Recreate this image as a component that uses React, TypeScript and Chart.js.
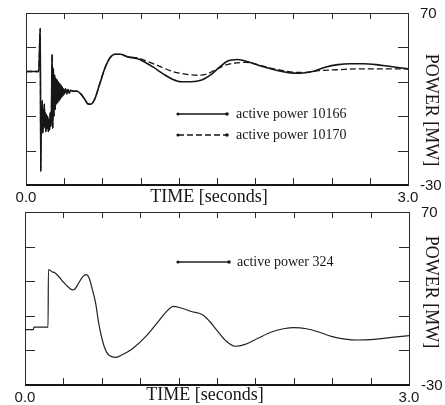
import React, { useEffect, useRef } from "react";
import { Chart, registerables } from "chart.js";

Chart.register(...registerables);

// ---- axis data ----
const xTickValues = [0, 0.3, 0.6, 0.9, 1.2, 1.5, 1.8, 2.1, 2.4, 2.7, 3.0];
const yTickValues = [50, 30, 10, -10];
const xEndValues = [0, 3];
const xEndLabels = ["0.0", "3.0"];
const yEndValues = [70, -30];
const yEndLabels = ["70", "-30"];
const xTitle = "TIME [seconds]";
const yTitle = "POWER [MW]";

// ---- top panel: shared transient of both buses ----
const commonTime = [0, 0.1, 0.112, 0.116, 0.12, 0.124, 0.128, 0.132, 0.136, 0.14, 0.144, 0.148, 0.152, 0.156, 0.16,
  0.165, 0.17, 0.175, 0.18, 0.185, 0.19, 0.195, 0.2, 0.205, 0.21, 0.215, 0.22, 0.225, 0.23, 0.235, 0.24, 0.245, 0.25,
  0.255, 0.26, 0.265, 0.27, 0.275, 0.28, 0.285, 0.29, 0.295, 0.3, 0.31, 0.32, 0.33, 0.34, 0.35,
  0.37, 0.4, 0.43, 0.46, 0.49, 0.51, 0.54, 0.58, 0.62, 0.66, 0.7, 0.74];
const commonPower = [36, 36, 61, -22, 16, 2, 19, 0, 14, 3, 17, 4, 12, 1, 11,
  3, 10, 1, 8, 2, 12, 4, 14, 46, 3, 38, 10, 34, 14, 32, 17, 31, 18,
  30, 19, 29, 20, 28, 21, 27, 22, 26, 23, 26, 23, 25.5, 23.5, 25,
  24.5, 24.5, 23, 20, 17, 17, 20, 29, 38, 44, 46, 46];

// active power 10166 (solid) after the transient
const tail10166Time = [0.8, 0.87, 0.92, 1.0, 1.08, 1.15, 1.22, 1.3, 1.38, 1.45, 1.52, 1.58, 1.66, 1.75, 1.85,
  1.95, 2.05, 2.15, 2.25, 2.35, 2.45, 2.55, 2.65, 2.75, 2.85, 2.95, 3.0];
const tail10166Power = [44.5, 43.5, 42, 38.5, 34.5, 31.5, 30, 30, 31, 34, 38.5, 42, 43, 41.5, 39,
  37, 35.5, 35, 36, 38.5, 40, 40.5, 40.5, 40, 39, 38, 37.5];

// active power 10170 (dashed) after the transient
const tail10170Time = [0.8, 0.87, 0.95, 1.05, 1.15, 1.25, 1.35, 1.42, 1.5, 1.58, 1.66, 1.73, 1.82, 1.92, 2.02,
  2.12, 2.2, 2.3, 2.45, 2.6, 2.75, 2.9, 3.0];
const tail10170Power = [44.5, 44, 42, 39, 36, 34.5, 33.8, 34.5, 37.5, 40, 41, 41.3, 40, 38, 36.5,
  35.5, 35.5, 36.5, 37, 37.5, 37.5, 37.5, 37.5];

// ---- bottom panel: active power 324 ----
const bus324Time = [0, 0.065, 0.07, 0.18, 0.183, 0.19, 0.21, 0.23, 0.26, 0.3, 0.34, 0.37, 0.39, 0.42, 0.45,
  0.48, 0.5, 0.52, 0.55, 0.58, 0.62, 0.66, 0.71, 0.76, 0.84, 0.95, 1.05, 1.1, 1.16, 1.22,
  1.3, 1.39, 1.44, 1.5, 1.57, 1.64, 1.72, 1.82, 1.92, 2.02, 2.1, 2.2, 2.3, 2.4, 2.5,
  2.6, 2.7, 2.8, 2.9, 3.0];
const bus324Power = [2, 2, 3.5, 3.5, 36.5, 36.5, 35.5, 35, 33, 29.5, 26.5, 25, 25.5, 29, 32.5,
  33.8, 32, 27, 18, 4, -8, -13, -14, -12.5, -9, -1.5, 7.5, 12, 15.5, 14.5,
  12.5, 10.5, 7, 1.6, -4.5, -7.6, -6.5, -3, 0.5, 2.5, 3.2, 2.5, 0.5, -2, -3.5,
  -4, -3.8, -3, -2.2, -1.5];

const toPoints = (time: number[], power: number[]) => time.map((t, i) => ({ x: t, y: power[i] }));

const INK = "#161616";

type LegendRow = { y: number };
type PanelOpts = {
  titleX: number;
  titleDy: number;
  yTitleX: number;
  yTitleY: number;
  legendX1: number;
  legendX2: number;
  legendTextX: number;
  legendRows: LegendRow[];
};

const framePlugin = {
  id: "frame",
  afterDraw(chart: any, _args: any, opts: PanelOpts) {
    const { ctx, chartArea: a, scales } = chart;
    const xs = scales.x;
    const ys = scales.y;
    ctx.save();
    ctx.strokeStyle = "#2a2a2a";
    ctx.lineWidth = 1;
    ctx.setLineDash([]);
    // frame (left, top, right)
    ctx.beginPath();
    ctx.moveTo(Math.round(a.left) + 0.5, a.bottom);
    ctx.lineTo(Math.round(a.left) + 0.5, Math.round(a.top) + 0.5);
    ctx.lineTo(Math.round(a.right) + 0.5, Math.round(a.top) + 0.5);
    ctx.lineTo(Math.round(a.right) + 0.5, a.bottom);
    ctx.stroke();
    // bottom axis (thicker)
    ctx.strokeStyle = INK;
    ctx.lineWidth = 2;
    ctx.beginPath();
    ctx.moveTo(a.left, a.bottom);
    ctx.lineTo(a.right + 1, a.bottom);
    ctx.stroke();

    // inward ticks
    ctx.lineWidth = 1;
    ctx.strokeStyle = "#2a2a2a";
    ctx.beginPath();
    for (const v of xTickValues) {
      const px = Math.round(xs.getPixelForValue(v)) + 0.5;
      ctx.moveTo(px, a.top);
      ctx.lineTo(px, a.top + 6);
      ctx.moveTo(px, a.bottom);
      ctx.lineTo(px, a.bottom - 7);
    }
    for (const v of yTickValues) {
      const py = Math.round(ys.getPixelForValue(v)) + 0.5;
      ctx.moveTo(a.left, py);
      ctx.lineTo(a.left + 10, py);
      ctx.moveTo(a.right, py);
      ctx.lineTo(a.right - 10, py);
    }
    ctx.stroke();

    // tick labels at the ends
    ctx.fillStyle = INK;
    ctx.font = '15px "Liberation Sans", Arial, sans-serif';
    ctx.textAlign = "center";
    ctx.textBaseline = "middle";
    xEndValues.forEach((v, i) => {
      ctx.fillText(xEndLabels[i], xs.getPixelForValue(v), a.bottom + 13);
    });
    ctx.textAlign = "left";
    yEndValues.forEach((v, i) => {
      ctx.fillText(yEndLabels[i], a.right + 12, ys.getPixelForValue(v) + 1);
    });

    // axis titles
    ctx.font = '18px "Liberation Serif", "Times New Roman", serif';
    ctx.textAlign = "center";
    ctx.fillText(xTitle, opts.titleX, a.bottom + opts.titleDy);
    ctx.save();
    ctx.translate(opts.yTitleX, opts.yTitleY);
    ctx.rotate(Math.PI / 2);
    ctx.fillText(yTitle, 0, 0);
    ctx.restore();

    // legend inside the plot
    ctx.font = '14px "Liberation Serif", "Times New Roman", serif';
    ctx.textAlign = "left";
    chart.data.datasets.forEach((ds: any, i: number) => {
      const row = opts.legendRows[i];
      if (!row) return;
      ctx.strokeStyle = ds.borderColor;
      ctx.lineWidth = 1.3;
      ctx.setLineDash(ds.borderDash || []);
      ctx.beginPath();
      ctx.moveTo(opts.legendX1, row.y);
      ctx.lineTo(opts.legendX2, row.y);
      ctx.stroke();
      ctx.setLineDash([]);
      ctx.fillStyle = INK;
      ctx.beginPath();
      ctx.arc(opts.legendX1, row.y, 1.6, 0, Math.PI * 2);
      ctx.arc(opts.legendX2, row.y, 1.8, 0, Math.PI * 2);
      ctx.fill();
      ctx.fillText(ds.label, opts.legendTextX, row.y);
    });
    ctx.restore();
  },
};

type PanelProps = {
  top: number;
  height: number;
  padding: { left: number; right: number; top: number; bottom: number };
  datasets: any[];
  opts: PanelOpts;
};

function Panel({ top, height, padding, datasets, opts }: PanelProps) {
  const ref = useRef<HTMLCanvasElement | null>(null);
  useEffect(() => {
    if (!ref.current) return;
    const chart = new Chart(ref.current, {
      type: "line",
      data: { datasets },
      options: {
        responsive: false,
        animation: false,
        devicePixelRatio: 1,
        layout: { padding },
        elements: { point: { radius: 0 } },
        plugins: {
          legend: { display: false },
          tooltip: { enabled: false },
          frame: opts,
        } as any,
        scales: {
          x: { type: "linear", min: 0, max: 3, display: false },
          y: { type: "linear", min: -30, max: 70, display: false },
        },
      },
      plugins: [framePlugin as any],
    });
    return () => chart.destroy();
  }, []);
  return (
    <canvas
      ref={ref}
      width={445}
      height={height}
      style={{ position: "absolute", left: 0, top, display: "block", width: 445, height }}
    />
  );
}

export default function App() {
  const topDatasets = [
    {
      label: "active power 10166",
      data: toPoints([...commonTime, ...tail10166Time], [...commonPower, ...tail10166Power]),
      borderColor: INK,
      borderWidth: 1.6,
      cubicInterpolationMode: "monotone",
      fill: false,
    },
    {
      label: "active power 10170",
      data: toPoints([...commonTime, ...tail10170Time], [...commonPower, ...tail10170Power]),
      borderColor: INK,
      borderWidth: 1.3,
      borderDash: [6, 3],
      cubicInterpolationMode: "monotone",
      fill: false,
    },
  ];
  const bottomDatasets = [
    {
      label: "active power 324",
      data: toPoints(bus324Time, bus324Power),
      borderColor: "#222",
      borderWidth: 1.2,
      cubicInterpolationMode: "monotone",
      fill: false,
    },
  ];
  return (
    <div style={{ position: "absolute", left: 0, top: 0, width: 445, height: 405, background: "#fff" }}>
      <Panel
        top={0}
        height={210}
        padding={{ left: 26, right: 37, top: 13, bottom: 25 }}
        datasets={topDatasets}
        opts={{
          titleX: 209,
          titleDy: 12,
          yTitleX: 431,
          yTitleY: 110,
          legendX1: 178,
          legendX2: 227,
          legendTextX: 236,
          legendRows: [{ y: 114 }, { y: 135 }],
        }}
      />
      <Panel
        top={200}
        height={205}
        padding={{ left: 25, right: 36, top: 12, bottom: 20 }}
        datasets={bottomDatasets}
        opts={{
          titleX: 205,
          titleDy: 10,
          yTitleX: 431,
          yTitleY: 92,
          legendX1: 178,
          legendX2: 229,
          legendTextX: 237,
          legendRows: [{ y: 62 }],
        }}
      />
    </div>
  );
}
